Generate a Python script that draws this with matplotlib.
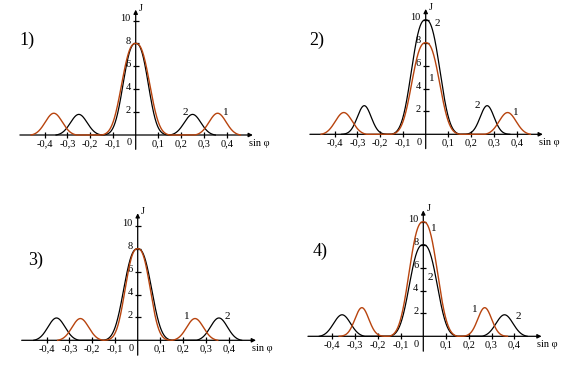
import numpy as np
import matplotlib
matplotlib.use("Agg")
import matplotlib.pyplot as plt

# ---------------- data ----------------
panel_names = ["1)", "2)", "3)", "4)"]

# curve "1" (orange)
main_height_1 = [8.0, 8.0, 8.0, 10.0]
main_width_1 = [0.0764, 0.0764, 0.0686, 0.0777]
side_pos_1 = [0.36, 0.36, 0.252, 0.27]
side_height_1 = [1.9, 1.9, 1.9, 2.5]
side_width_1 = [0.053, 0.053, 0.052, 0.043]

# curve "2" (black)
main_height_2 = [8.0, 10.0, 8.0, 8.0]
main_width_2 = [0.0686, 0.0777, 0.0764, 0.0764]
side_pos_2 = [0.25, 0.27, 0.357, 0.357]
side_height_2 = [1.8, 2.5, 1.95, 1.88]
side_width_2 = [0.052, 0.043, 0.053, 0.053]

x_ticks = [-0.4, -0.3, -0.2, -0.1, 0.1, 0.2, 0.3, 0.4]
x_tick_labels = ["-0,4", "-0,3", "-0,2", "-0,1", "0,1", "0,2", "0,3", "0,4"]
y_ticks = [2, 4, 6, 8, 10]
y_tick_labels = ["2", "4", "6", "8", "10"]

# ---------------- layout / style ----------------
W, H, DPI = 573, 366, 100
SX, SY = 227.5, 11.45          # pixels per data unit
XMIN, XMAX, YMIN, YMAX = -0.62, 0.66, -2.5, 12.5
origins = [(135.7, 135.0), (425.7, 134.3), (137.7, 340.3), (423.3, 336.3)]
axis_x_range = [(-0.509, 0.515), (-0.509, 0.515), (-0.51, 0.52), (-0.507, 0.52)]
axis_y_range = [(-1.25, 10.95), (-1.25, 10.95), (-1.3, 11.1), (-1.3, 11.0)]
panel_label_pos = [(-0.51, 8.3), (-0.51, 8.2), (-0.48, 7.0), (-0.486, 7.4)]
curve_labels = [
    [("2", 0.218, 1.95), ("1", 0.394, 1.95)],
    [("2", 0.049, 9.65), ("1", 0.026, 4.84), ("2", 0.225, 2.48), ("1", 0.394, 1.9)],
    [("1", 0.216, 2.05), ("2", 0.393, 2.05)],
    [("1", 0.047, 9.4), ("2", 0.032, 5.1), ("1", 0.227, 2.3), ("2", 0.416, 1.7)],
]
ORANGE = "#b8440e"
SERIF = ["Liberation Serif", "DejaVu Serif"]

MAIN_HALF, MAIN_P = 0.15, 2.5
SIDE_HALF, SIDE_P = 0.10, 2.0


def peak(x, c, h, w, p, half):
    u = np.abs(x - c)
    e0 = np.exp(-(half / w) ** p)
    y = (np.exp(-(u / w) ** p) - e0) / (1 - e0)
    return np.where(u < half, h * y, 0.0)


def curve(x, mh, mw, sp, sh, sw):
    y = peak(x, 0.0, mh, mw, MAIN_P, MAIN_HALF)
    y = y + peak(x, sp, sh, sw, SIDE_P, SIDE_HALF)
    y = y + peak(x, -sp, sh, sw, SIDE_P, SIDE_HALF)
    return y


fig = plt.figure(figsize=(W / DPI, H / DPI), dpi=DPI)
fig.patch.set_facecolor("white")

for i in range(4):
    ox, oy = origins[i]
    left = ox + XMIN * SX
    width = (XMAX - XMIN) * SX
    top = oy - YMAX * SY
    height = (YMAX - YMIN) * SY
    ax = fig.add_axes([left / W, (H - top - height) / H, width / W, height / H])
    ax.set_xlim(XMIN, XMAX)
    ax.set_ylim(YMIN, YMAX)
    ax.axis("off")
    ax.patch.set_alpha(0)

    # axes with arrows
    x0, x1 = axis_x_range[i]
    y0, y1 = axis_y_range[i]
    ax.annotate("", xy=(x1, 0), xytext=(x0, 0),
                arrowprops=dict(arrowstyle="-|>", lw=0.9, color="black",
                                mutation_scale=6, shrinkA=0, shrinkB=0))
    ax.annotate("", xy=(0, y1), xytext=(0, y0),
                arrowprops=dict(arrowstyle="-|>", lw=0.9, color="black",
                                mutation_scale=6, shrinkA=0, shrinkB=0))
    # ticks
    ax.plot(x_ticks, [0] * len(x_ticks), ls="none", marker="|", ms=5,
            mew=0.9, color="black")
    ax.plot([0] * len(y_ticks), y_ticks, ls="none", marker="_", ms=5,
            mew=0.9, color="black")
    for xv, lab in zip(x_ticks, x_tick_labels):
        ax.annotate(lab, (xv, 0), xytext=(0, -3), textcoords="offset points",
                    ha="center", va="top", fontsize=7.5, family=SERIF)
    for yv, lab in zip(y_ticks, y_tick_labels):
        ax.annotate(lab, (0, yv), xytext=(-3.5, 1.5), textcoords="offset points",
                    ha="right", va="center", fontsize=7.5, family=SERIF)
    ax.annotate("0", (0, 0), xytext=(-3, -2.5), textcoords="offset points",
                ha="right", va="top", fontsize=7.5, family=SERIF)
    ax.annotate("J", (0, y1), xytext=(2.5, 1), textcoords="offset points",
                ha="left", va="center", fontsize=7.5, family=SERIF)
    ax.annotate("sin φ", (x1, 0), xytext=(-3, -3), textcoords="offset points",
                ha="left", va="top", fontsize=7.5, family=SERIF)

    # curves
    span1 = side_pos_1[i] + SIDE_HALF
    xs1 = np.linspace(-span1, span1, 1201)
    ys1 = curve(xs1, main_height_1[i], main_width_1[i], side_pos_1[i],
                side_height_1[i], side_width_1[i])
    span2 = side_pos_2[i] + SIDE_HALF
    xs2 = np.linspace(-span2, span2, 1201)
    ys2 = curve(xs2, main_height_2[i], main_width_2[i], side_pos_2[i],
                side_height_2[i], side_width_2[i])
    ax.plot(xs2, ys2, color="black", lw=0.9, zorder=3)
    ax.plot(xs1, ys1, color=ORANGE, lw=1.0, zorder=4)

    for lab, lx, ly in curve_labels[i]:
        ax.text(lx, ly, lab, fontsize=8, family=SERIF, ha="center", va="center")

    px, py = panel_label_pos[i]
    ax.text(px, py, panel_names[i], fontsize=13, family=SERIF,
            ha="left", va="center")

fig.savefig("out.png", dpi=DPI)
